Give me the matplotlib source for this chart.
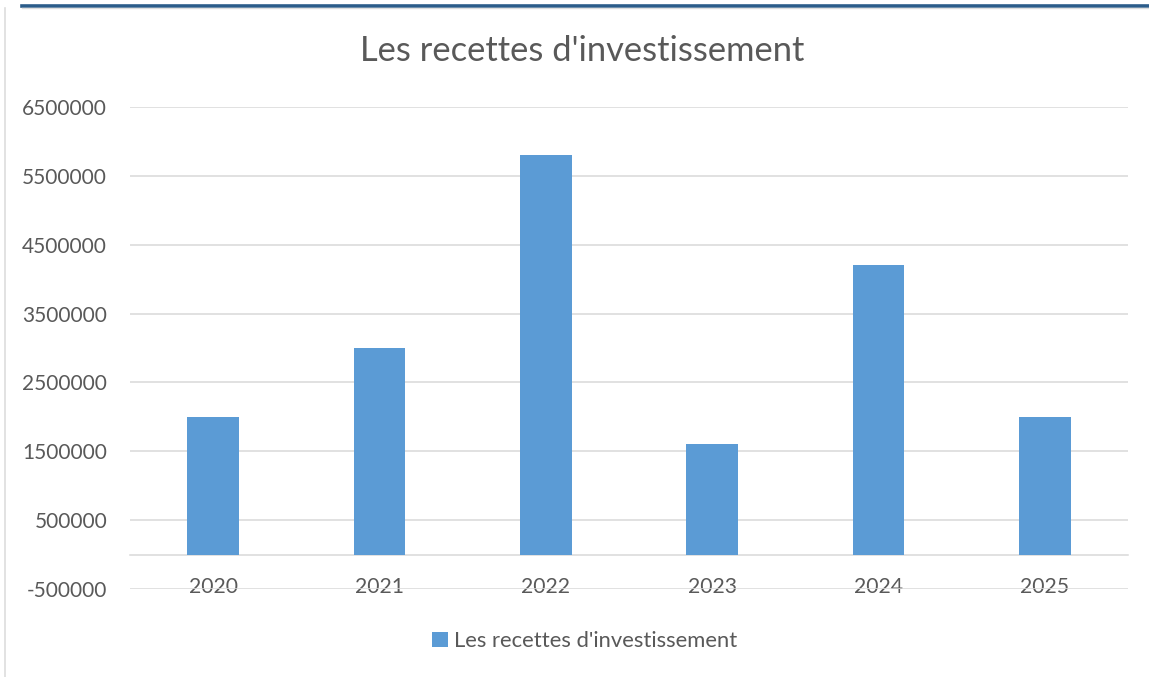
import matplotlib
matplotlib.use("Agg")
import matplotlib.pyplot as plt
from matplotlib.lines import Line2D

years = ["2020", "2021", "2022", "2023", "2024", "2025"]
recettes = [2000000, 3000000, 5800000, 1600000, 4200000, 2000000]
yticks = [-500000, 500000, 1500000, 2500000, 3500000, 4500000, 5500000, 6500000]
title = "Les recettes d'investissement"
series_name = "Les recettes d'investissement"

plt.rcParams['font.family'] = ['Lato', 'DejaVu Sans']
TXT = '#595959'
GRID = '#D9D9D9'
BAR = '#5B9BD5'

W, H = 1149, 677
fig = plt.figure(figsize=(W / 100, H / 100), dpi=100)
ax = fig.add_axes([130 / W, 1 - 589 / H, (1128 - 130) / W, (589 - 107) / H])

x = list(range(len(years)))
ax.bar(x, recettes, width=0.31, color=BAR, label=series_name, zorder=3)

ax.set_xlim(-0.5, len(years) - 0.5)
ax.set_ylim(-500000, 6500000)
ax.set_yticks(yticks)
ax.set_yticklabels([str(v) for v in yticks])
ax.yaxis.grid(True, color=GRID, linewidth=1.1, zorder=0)
ax.set_axisbelow(True)

for s in ['top', 'right', 'left']:
    ax.spines[s].set_visible(False)
ax.spines['bottom'].set_position(('data', 0))
ax.spines['bottom'].set_color(GRID)
ax.spines['bottom'].set_linewidth(1.1)
ax.spines['bottom'].set_zorder(1)

ax.set_xticks(x)
ax.set_xticklabels(years)
ax.tick_params(axis='x', length=0, pad=16, labelsize=15.2, labelcolor=TXT)
ax.tick_params(axis='y', length=0, pad=16.5, labelsize=15, labelcolor=TXT)

fig.text(582 / W, 1 - 51 / H, title, ha='center', va='center', fontsize=24.8, color=TXT)

handles, labels = ax.get_legend_handles_labels()
leg = fig.legend(handles, labels, loc='center', bbox_to_anchor=(585 / W, 1 - 641 / H),
                 frameon=False, fontsize=15.8, handlelength=0.7, handleheight=0.7,
                 handletextpad=0.3, labelcolor=TXT)

# frame decorations
fig.add_artist(Line2D([22 / W, 1], [1 - 5.5 / H, 1 - 5.5 / H], color='#2B5C8A', linewidth=2.6,
                      transform=fig.transFigure))
fig.add_artist(Line2D([22 / W, 1], [1 - 8 / H, 1 - 8 / H], color='#DDDDDD', linewidth=1,
                      transform=fig.transFigure))
fig.add_artist(Line2D([5 / W, 5 / W], [0, 1 - 8 / H], color='#DDDDDD', linewidth=1.2,
                      transform=fig.transFigure))

fig.savefig("out.png", dpi=100)
